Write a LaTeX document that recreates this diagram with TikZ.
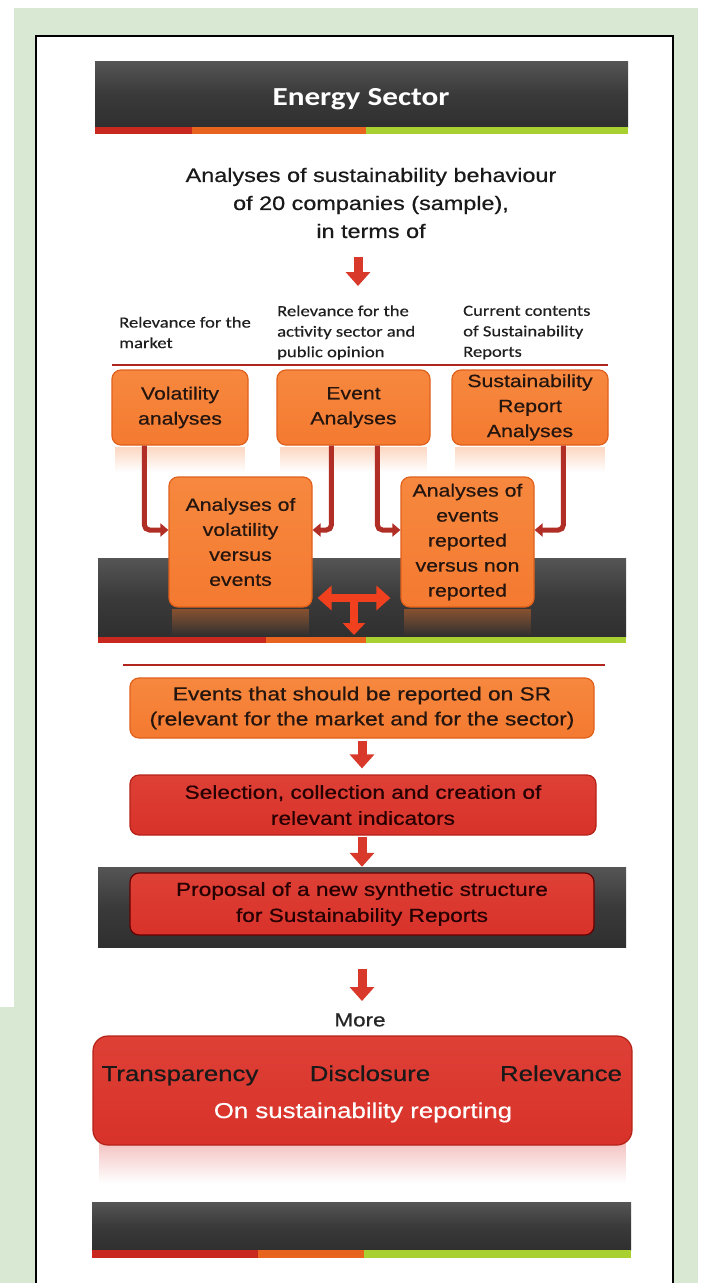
\documentclass[tikz,border=0pt]{standalone}
\usepackage{fontspec}
\setmainfont{Liberation Sans}[FakeStretch=1.2]
\newfontfamily\boxfont{Liberation Sans}[FakeStretch=1.2, FakeBold=0.6]
\newfontfamily\carlito{Carlito}[FakeStretch=1.2, FakeBold=0.4]
\newfontfamily\carlitob{Carlito}[FakeStretch=1.2]
\usetikzlibrary{arrows.meta,calc,fadings}
\definecolor{bggreen}{HTML}{D9E8D3}
\definecolor{barred}{HTML}{C8281E}
\definecolor{barorange}{HTML}{E8641E}
\definecolor{bargreen}{HTML}{A8D030}
\definecolor{boxorange}{HTML}{F47A30}
\definecolor{boxorangetop}{HTML}{F7883F}
\definecolor{boxorangedark}{HTML}{E0601C}
\definecolor{boxred}{HTML}{D8322A}
\definecolor{boxredtop}{HTML}{DE4036}
\definecolor{boxreddark}{HTML}{B42218}
\definecolor{connred}{HTML}{B02E26}
\definecolor{arrowred}{HTML}{D8392A}
\definecolor{tred}{HTML}{F0401E}
\definecolor{txtdark}{HTML}{24150F}
\definecolor{bandtop}{HTML}{555555}
\definecolor{bandmid}{HTML}{3A3A3A}
\definecolor{bandbot}{HTML}{2F2F2F}
\definecolor{rulered}{HTML}{B0261E}
\tikzfading[name=fadedown, top color=transparent!0, bottom color=transparent!100]
\begin{document}
\begin{tikzpicture}[x=1pt,y=-1pt,
  darkband/.style={rectangle, inner sep=0pt, top color=bandtop, bottom color=bandbot, middle color=bandmid, draw=none},
  obox/.style={rectangle, rounded corners=9pt, top color=boxorangetop, bottom color=boxorange, draw=boxorangedark, line width=1.2pt, text=txtdark, align=center, font=\boxfont\fontsize{17.7}{25}\selectfont, inner sep=0pt},
  rbox/.style={rectangle, rounded corners=9pt, top color=boxredtop, bottom color=boxred, draw=boxreddark, line width=1.2pt, text=black!85!red, align=center, font=\boxfont\fontsize{18.9}{26}\selectfont, inner sep=0pt},
  lab/.style={font=\carlito\fontsize{15.5}{20.5}\selectfont, align=left, anchor=west, inner sep=0pt, text=black!88},
  conn/.style={draw=connred, line width=5pt, rounded corners=5pt, -{Triangle[length=8pt,width=13pt]}},
  blockarr/.style={draw=arrowred, line width=9pt, -{Triangle[length=14pt,width=24pt]}},
  tarr/.style={draw=tred, line width=8pt},
  redrule/.style={draw=rulered, line width=2pt},
  bigtxt/.style={font=\boxfont\fontsize{21.5}{26}\selectfont, inner sep=0pt}
]
% background
\fill[white] (0,0) rectangle (701,1283);
\useasboundingbox (0,0) rectangle (701,1283);
\fill[bggreen] (14,8) rectangle (698,1283);
\fill[bggreen] (0,1007) rectangle (14,1283);
\filldraw[fill=white, draw=black, line width=2pt] (36,36) rectangle (673,1295);

% top bar
\node[darkband, minimum width=533pt, minimum height=66pt] (topbar) at (361.5,94) {};
\fill[barred] (topbar.south west) rectangle ($(topbar.south west)+(97,7)$);
\fill[barorange] ($(topbar.south west)+(97,0)$) rectangle ($(topbar.south west)+(271,7)$);
\fill[bargreen] ($(topbar.south west)+(271,0)$) rectangle ($(topbar.south east)+(0,7)$);
\node[font=\carlitob\bfseries\fontsize{26}{30}\selectfont, text=white] (title) at (361,99) {Energy Sector};

% intro
\node[font=\boxfont\fontsize{19.5}{28}\selectfont, align=center, text=black!90] (intro) at (371,203)
  {Analyses of sustainability behaviour\\of 20 companies (sample),\\in terms of};
\coordinate (a1s) at (358,257);
\coordinate (a1e) at (358,286);
\draw[blockarr] (a1s) -- (a1e);

% labels
\node[lab] (lab1) at (119,332.5) {Relevance for the\\market};
\node[lab] (lab2) at (277,332.5) {Relevance for the\\activity sector and\\public opinion};
\node[lab] (lab3) at (463,332.5) {Current contents\\of Sustainability\\Reports};
\coordinate (rl1a) at (112,365);
\coordinate (rl1b) at (608,365);
\draw[redrule] (rl1a) -- (rl1b);

% first row boxes
\node[obox, minimum width=136pt, minimum height=75pt] (b1) at (180,407.5) {Volatility\\analyses};
\node[obox, minimum width=153pt, minimum height=75pt] (b2) at (353.5,407.5) {Event\\Analyses};
\node[obox, minimum width=156pt, minimum height=75pt] (b3) at (530,407.5) {Sustainability\\Report\\Analyses};
\foreach \b in {b1,b2,b3}{
  \fill[boxorange!30, path fading=fadedown] ($(\b.south west)+(4,1)$) rectangle ($(\b.south east)+(-4,26)$);
}

% middle band
\node[darkband, minimum width=528pt, minimum height=79pt] (band1) at (362,597.5) {};
\fill[barred] (band1.south west) rectangle ($(band1.south west)+(168,6)$);
\fill[barorange] ($(band1.south west)+(168,0)$) rectangle ($(band1.south west)+(268,6)$);
\fill[bargreen] ($(band1.south west)+(268,0)$) rectangle ($(band1.south east)+(0,6)$);

% second row boxes
\node[obox, minimum width=143pt, minimum height=130pt] (b4) at (240.5,542) {Analyses of\\volatility\\versus\\events};
\node[obox, minimum width=133pt, minimum height=130pt] (b5) at (467.5,542) {Analyses of\\events\\reported\\versus non\\reported};
\foreach \b in {b4,b5}{
  \fill[boxorange!45!bandbot, path fading=fadedown] ($(\b.south west)+(4,1)$) rectangle ($(\b.south east)+(-4,28)$);
}

% connectors
\draw[conn] ($(b1.south west)+(33,0)$) |- ($(b4.west)+(0,-12)$);
\draw[conn] ($(b2.south west)+(55,0)$) |- ($(b4.east)+(0,-12)$);
\draw[conn] ($(b2.south west)+(101,0)$) |- ($(b5.west)+(0,-12)$);
\draw[conn] ($(b3.south west)+(112,0)$) |- ($(b5.east)+(0,-12)$);

% T arrow
\coordinate (tc) at (354,598);
\coordinate (tdown) at (354,635);
\draw[tarr, {Triangle[length=14pt,width=24pt]}-{Triangle[length=14pt,width=24pt]}] ($(b4.east |- tc)+(5,0)$) -- ($(b5.west |- tc)+(-10,0)$);
\draw[tarr, -{Triangle[length=12pt,width=22pt]}] (tc) -- (tdown);

% second rule
\coordinate (rl2a) at (123,665);
\coordinate (rl2b) at (605,665);
\draw[redrule] (rl2a) -- (rl2b);

% lower chain
\node[obox, minimum width=464pt, minimum height=60pt, font=\boxfont\fontsize{18.9}{25}\selectfont] (b6) at (362,708)
  {Events that should be reported on SR\\(relevant for the market and for the sector)};
\node[rbox, minimum width=466pt, minimum height=60pt] (b7) at (363,805)
  {Selection, collection and creation of\\relevant indicators};
\node[darkband, minimum width=528pt, minimum height=80pt] (band2) at (362,907) {};
\node[rbox, draw=black!60!red, minimum width=464pt, minimum height=62pt] (b8) at (362,904)
  {Proposal of a new synthetic structure\\for Sustainability Reports};
\draw[blockarr, shorten <=2pt, shorten >=6pt] (b6.south) -- (b6.south |- b7.north);
\draw[blockarr, shorten <=1pt] (b6.south |- b7.south) -- (b6.south |- band2.north);

% more
\node[font=\boxfont\fontsize{18.7}{22}\selectfont, text=black!85] (more) at (360,1020) {More};
\coordinate (a4s) at (362,969);
\coordinate (a4e) at (362,1001);
\draw[blockarr] (a4s) -- (a4e);

% big box
\node[rectangle, rounded corners=15pt, minimum width=539pt, minimum height=109pt, inner sep=0pt] (bigref) at (362.5,1100) {};
\fill[boxred!35, path fading=fadedown] ($(bigref.south west)+(6,-20)$) rectangle ($(bigref.south east)+(-6,28)$);
\node[rbox, rounded corners=15pt, minimum width=539pt, minimum height=109pt] (big) at (362.5,1090.5) {};
\node[bigtxt, text=black!90, anchor=base] (w1) at (180,1081) {Transparency};
\node[bigtxt, text=black!90, anchor=base] (w2) at (370,1081) {Disclosure};
\node[bigtxt, text=black!90, anchor=base] (w3) at (561,1081) {Relevance};
\node[bigtxt, text=white, anchor=base] (w4) at (363,1118) {On sustainability reporting};

% bottom bar
\node[darkband, minimum width=539pt, minimum height=48pt] (botbar) at (361.5,1226) {};
\fill[barred] (botbar.south west) rectangle ($(botbar.south west)+(166,8)$);
\fill[barorange] ($(botbar.south west)+(166,0)$) rectangle ($(botbar.south west)+(272,8)$);
\fill[bargreen] ($(botbar.south west)+(272,0)$) rectangle ($(botbar.south east)+(0,8)$);
\end{tikzpicture}
\end{document}
